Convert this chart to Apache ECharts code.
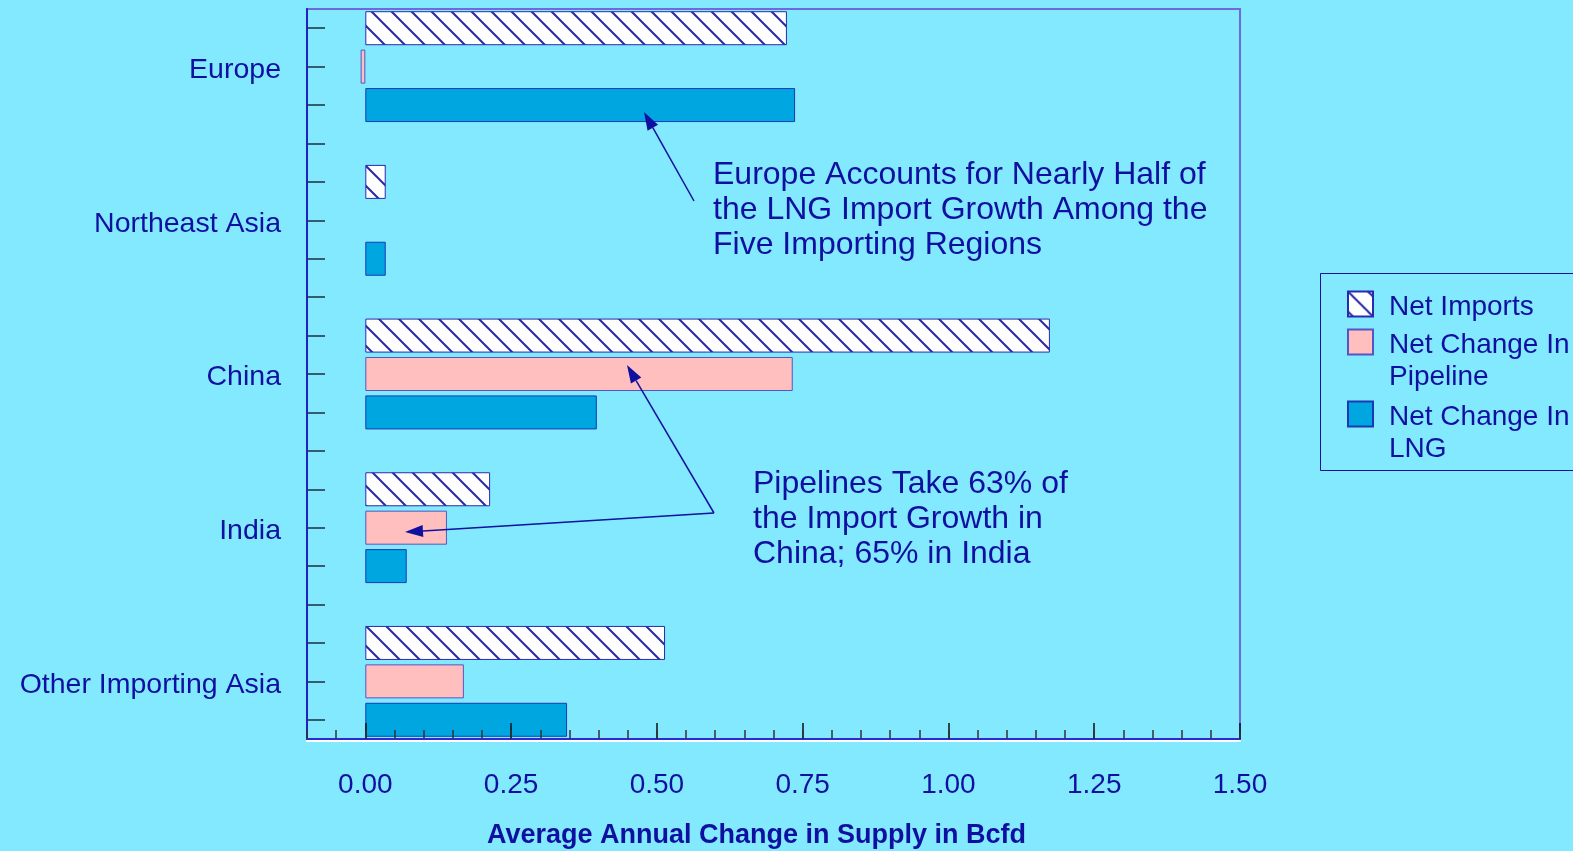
<!DOCTYPE html>
<html>
<head>
<meta charset="utf-8">
<title>Import growth by region</title>
<script src="https://cdn.jsdelivr.net/npm/echarts@6/dist/echarts.min.js"></script>
<style>
  html, body { margin: 0; padding: 0; background: #82e9ff; }
  #chart { width: 1573px; height: 851px; }
</style>
</head>
<body>
<div id="chart"></div>
<script>
// regions, top to bottom
const regions = ['Europe', 'Northeast Asia', 'China', 'India', 'Other Importing Asia'];
// average annual change, Bcfd (null = no bar drawn)
const netImports = [0.723, 0.035, 1.174, 0.214, 0.514];
const pipeline = [-0.008, null, 0.733, 0.14, 0.169];
const lng = [0.737, 0.035, 0.397, 0.071, 0.346];
const xTicks = [0, 0.25, 0.5, 0.75, 1, 1.25, 1.5];

const textColor = '#1010a0';
const font = 'Liberation Sans';

// every region takes 3 slots on the y axis (imports, pipeline, lng), then a gap slot
const slotCount = regions.length * 4 - 1;
const slotKeys = [];
const slotLabels = [];
for (let i = 0; i < slotCount; i++) {
    slotKeys.push('s' + i);
    slotLabels.push(i % 4 === 1 ? regions[(i - 1) / 4] : '');
}
function slotData(values, k) {
    const arr = new Array(slotCount).fill(null);
    values.forEach((v, i) => { arr[i * 4 + k] = v; });
    return arr;
}

// small ticks every 0.05 along the x axis
const minorTicks = [];
for (let i = 0; i <= 32; i++) minorTicks.push(Math.round((-0.1 + i * 0.05) * 100) / 100);

function hatch() {
    const c = document.createElement('canvas');
    c.width = 20;
    c.height = 20;
    const g = c.getContext('2d');
    g.fillStyle = '#ffffff';
    g.fillRect(0, 0, 20, 20);
    g.strokeStyle = '#2a2aa8';
    g.lineWidth = 2;
    g.beginPath();
    g.moveTo(-2, -2); g.lineTo(22, 22);
    g.moveTo(-2, 18); g.lineTo(2, 22);
    g.moveTo(18, -2); g.lineTo(22, 2);
    g.stroke();
    return c;
}

function arrow(x1, y1, x2, y2) {
    const a = Math.atan2(y2 - y1, x2 - x1), L = 18, W = 6;
    const bx = x2 - L * Math.cos(a), by = y2 - L * Math.sin(a);
    const px = -Math.sin(a) * W, py = Math.cos(a) * W;
    return [
        { type: 'line', z: 10, shape: { x1: x1, y1: y1, x2: bx, y2: by }, style: { stroke: textColor, lineWidth: 1.5 } },
        { type: 'polygon', z: 10, shape: { points: [[x2, y2], [bx + px, by + py], [bx - px, by - py]] }, style: { fill: textColor } }
    ];
}

// one legend per item so the two-line names can sit with their first line beside the icon
function legendItem(name, top, twoLines) {
    return {
        orient: 'vertical',
        left: 1347,
        top: top,
        padding: 0,
        itemWidth: 25,
        itemHeight: 25,
        icon: 'rect',
        selectedMode: false,
        data: [name],
        formatter: n => (twoLines ? '{s| }\n' : '{t| }\n') + n,
        textStyle: {
            color: textColor, fontSize: 28, fontFamily: font, lineHeight: 32, padding: [0, 0, 0, 11],
            rich: { s: { fontSize: 10, lineHeight: 38 }, t: { fontSize: 4, lineHeight: 6 } }
        }
    };
}

const chart = echarts.init(document.getElementById('chart'));
chart.setOption({
    backgroundColor: '#82e9ff',
    animation: false,
    grid: {
        left: 307,
        right: 333,
        top: 9,
        bottom: 112,
        show: true,
        borderColor: '#6b6bdf',
        borderWidth: 2,
        outerBoundsMode: 'none'
    },
    legend: [
        legendItem('Net Imports', 285, false),
        legendItem('Net Change In\nPipeline', 291, true),
        legendItem('Net Change In\nLNG', 363, true)
    ],
    xAxis: [{
        type: 'value',
        min: -0.1,
        max: 1.5,
        z: 5,
        axisLine: { show: true, lineStyle: { color: '#2b2bd0', width: 2, shadowColor: '#ffffff', shadowOffsetY: 2 } },
        axisTick: { show: true, inside: true, length: 16, customValues: xTicks, lineStyle: { color: '#111111', width: 1.5 } },
        axisLabel: {
            customValues: xTicks,
            formatter: v => v.toFixed(2),
            color: textColor,
            fontSize: 28,
            fontFamily: font,
            margin: 32
        },
        splitLine: { show: false },
        name: 'Average Annual Change in Supply in Bcfd',
        nameLocation: 'middle',
        nameGap: 83,
        nameTextStyle: { fontWeight: 'bold', fontSize: 27, color: textColor, fontFamily: font, padding: [0, 34, 0, 0] }
    }, {
        type: 'value',
        min: -0.1,
        max: 1.5,
        z: 5,
        position: 'bottom',
        axisLine: { show: false },
        axisLabel: { show: false },
        splitLine: { show: false },
        axisTick: { show: true, inside: true, length: 9, customValues: minorTicks, lineStyle: { color: '#333333', width: 1.5 } }
    }],
    yAxis: {
        type: 'category',
        inverse: true,
        data: slotKeys,
        z: 5,
        axisLine: { show: true, onZero: false, lineStyle: { color: '#2222c0', width: 2 } },
        axisTick: { show: true, inside: true, length: 18, alignWithLabel: true, interval: 0, lineStyle: { color: '#1b2f3f', width: 1.5 } },
        axisLabel: {
            interval: 0,
            formatter: (v, i) => slotLabels[i],
            color: textColor,
            fontSize: 28.5,
            fontFamily: font,
            margin: 26,
            verticalAlign: 'top',
            lineHeight: 7
        },
        splitLine: { show: false }
    },
    graphic: [
        { type: 'rect', shape: { x: 1320.5, y: 273.5, width: 300, height: 197 }, style: { fill: 'none', stroke: textColor, lineWidth: 1 } },
        {
            type: 'text', x: 713, y: 158, z: 10,
            style: { text: 'Europe Accounts for Nearly Half of\nthe LNG Import Growth Among the\nFive Importing Regions', fill: textColor, fontSize: 32, fontFamily: font, lineHeight: 35 }
        },
        {
            type: 'text', x: 753, y: 467, z: 10,
            style: { text: 'Pipelines Take 63% of\nthe Import Growth in\nChina; 65% in India', fill: textColor, fontSize: 32, fontFamily: font, lineHeight: 35 }
        }
    ].concat(arrow(694, 201, 644, 112), arrow(714, 513, 627, 365), arrow(714, 513, 405, 532)),
    series: [{
        name: 'Net Imports',
        type: 'bar',
        barWidth: 34,
        barGap: '-100%',
        data: slotData(netImports, 0),
        itemStyle: { color: { image: hatch(), repeat: 'repeat' }, borderColor: '#2a2ab0', borderWidth: 1 }
    }, {
        name: 'Net Change In\nPipeline',
        type: 'bar',
        barWidth: 34,
        barGap: '-100%',
        data: slotData(pipeline, 1),
        itemStyle: { color: '#ffbfbf', borderColor: '#5555c8', borderWidth: 1 }
    }, {
        name: 'Net Change In\nLNG',
        type: 'bar',
        barWidth: 34,
        barGap: '-100%',
        data: slotData(lng, 2),
        itemStyle: { color: '#00a6e0', borderColor: '#1a3ab5', borderWidth: 1 }
    }]
});
</script>
</body>
</html>
